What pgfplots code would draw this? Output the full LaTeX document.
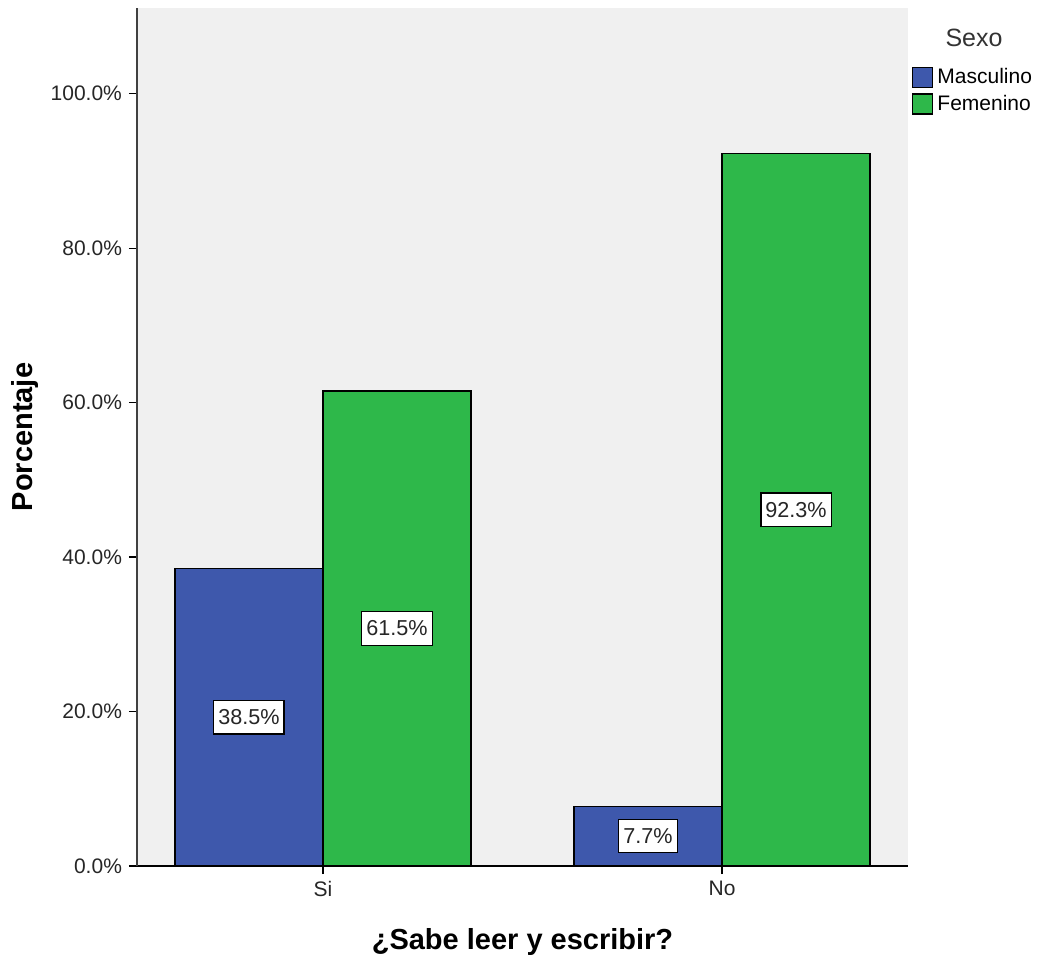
\documentclass[border=0pt]{standalone}
\usepackage{pgfplots}
\pgfplotsset{compat=1.18}
\usepackage{fontspec}
\setmainfont{Liberation Sans}
\definecolor{bblue}{HTML}{3E58AC}
\definecolor{bgreen}{HTML}{2EB84A}
\definecolor{bg}{HTML}{F0F0F0}
\begin{document}
\begin{tikzpicture}
\useasboundingbox (-68.5pt,-47pt) rectangle (450.5pt,433pt);
\begin{axis}[
  at={(0,0)}, anchor=south west,
  scale only axis, width=385.5pt, height=429pt,
  clip=false,
  xmin=-0.466, xmax=1.466, ymin=0, ymax=111.1,
  axis x line*=bottom, axis y line*=left,
  x axis line style={black, line width=0.8pt, -},
  y axis line style={black!75, line width=1.2pt, -},
  axis background/.style={fill=bg},
  xtick={0,1}, xticklabels={Si,No},
  ytick={0,20,40,60,80,100},
  yticklabel={\pgfmathprintnumber[fixed,fixed zerofill,precision=1]{\tick}\%},
  /pgf/number format/assume math mode=true,
  tick align=outside, major tick length=4pt,
  tick style={black, line width=0.6pt},
  tick label style={font=\fontsize{10.5}{12}\selectfont, text=black!85},
  every axis x label/.style={at={(axis description cs:0.5,-0.0886)}, anchor=center},
  every axis y label/.style={at={(axis description cs:-0.1453,0.5)}, anchor=center, rotate=90},
  label style={font=\bfseries\fontsize{14.5}{16}\selectfont},
  xlabel={¿Sabe leer y escribir?}, ylabel={Porcentaje},
  legend style={at={(axis description cs:1.005,0.9345)}, anchor=north west,
    draw=none, fill=none, font=\fontsize{10.5}{12}\selectfont,
    row sep=0pt, inner sep=0pt, cells={anchor=west}},
  legend image code/.code={\draw[#1, draw=black, line width=0.6pt] (0pt,-5pt) rectangle (10pt,5pt);},
]
\addplot[ybar, bar width=74pt, bar shift=-37pt, fill=bblue, draw=black, line width=0.6pt]
  coordinates {(0,38.5) (1,7.7)};
\addlegendentry{Masculino}
\addplot[ybar, bar width=74pt, bar shift=37pt, fill=bgreen, draw=black, line width=0.6pt]
  coordinates {(0,61.5) (1,92.3)};
\addlegendentry{Femenino}
\addplot[forget plot, only marks, mark=none, nodes near coords, point meta=explicit symbolic,
  every node near coord/.style={anchor=center, fill=white, draw=black, line width=0.6pt,
    inner xsep=2.25pt, inner ysep=4.5pt, font=\fontsize{10.8}{12}\selectfont, text=black!85}]
  coordinates {(-0.1855,19.25) [38.5\%] (0.1855,30.75) [61.5\%] (0.8145,3.85) [7.7\%] (1.1855,46.15) [92.3\%]};
\node[font=\fontsize{12.5}{14}\selectfont, text=black!80] at (axis description cs:1.0856,0.965) {Sexo};
\end{axis}
\end{tikzpicture}
\end{document}
